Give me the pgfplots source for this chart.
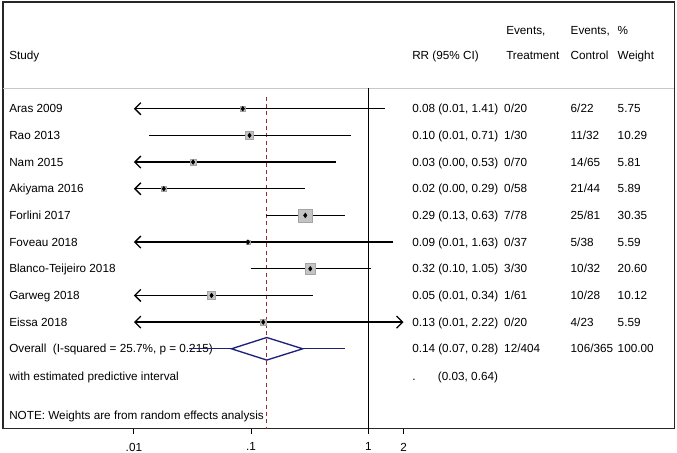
\documentclass[border=0pt]{standalone}
\usepackage{pgfplots}
\pgfplotsset{compat=1.18}
\usepackage{fontspec}
\setmainfont{Liberation Sans}
\usetikzlibrary{arrows.meta}
\definecolor{dmnd}{RGB}{30,32,120}
\definecolor{refred}{RGB}{150,40,50}
\definecolor{boxgray}{RGB}{195,195,195}
\definecolor{boxedge}{RGB}{165,165,165}
\newcommand{\fs}{\fontsize{8.8}{10.5}\selectfont}
\newcommand{\txt}[3]{\node[anchor=base west,inner sep=0pt,font=\fs] at ({rel axis cs:#1,0}|-{axis cs:1,#2}) {#3};}
\tikzset{>={Straight Barb[length=4.5pt,width=9pt]}}
\begin{document}
\begin{tikzpicture}
\useasboundingbox (-2.25pt,-17.625pt) rectangle (505.5pt,321.4pt);
\begin{axis}[
  at={(0,0)}, anchor=south west,
  scale only axis, width=503.6pt, height=319.9pt,
  xmode=log, xmin=7.64e-4, xmax=410,
  ymin=-3, ymax=12.99, y dir=reverse,
  xtick={0.01,0.1,1,2}, xticklabels={.01,.1,1,2},
  xminorticks=false, ytick=\empty,
  xtick pos=left, tick align=outside, major tick length=3.75pt,
  tick style={black, line width=0.75pt},
  axis line style={black!85, line width=0.8pt},
  xticklabel style={font=\fs, yshift=-3.5pt},
  clip=false,
]
% header
\txt{0.7491}{-1.79}{Events,}
\txt{0.8451}{-1.79}{Events,}
\txt{0.9151}{-1.79}{\%}
\txt{0.00894}{-0.853}{Study}
\txt{0.6091}{-0.853}{RR (95\% CI)}
\txt{0.7491}{-0.853}{Treatment}
\txt{0.8451}{-0.853}{Control}
\txt{0.9151}{-0.853}{Weight}
\draw[black!22, line width=0.6pt] ({rel axis cs:0,0}|-{axis cs:1,0.235}) -- ({rel axis cs:1,0}|-{axis cs:1,0.235});
% rows
\txt{0.00894}{1.157}{Aras 2009}
\txt{0.6091}{1.157}{0.08 (0.01, 1.41)}
\txt{0.7461}{1.157}{0/20}
\txt{0.8451}{1.157}{6/22}
\txt{0.9151}{1.157}{5.75}
\txt{0.00894}{2.157}{Rao 2013}
\txt{0.6091}{2.157}{0.10 (0.01, 0.71)}
\txt{0.7461}{2.157}{1/30}
\txt{0.8451}{2.157}{11/32}
\txt{0.9151}{2.157}{10.29}
\txt{0.00894}{3.157}{Nam 2015}
\txt{0.6091}{3.157}{0.03 (0.00, 0.53)}
\txt{0.7461}{3.157}{0/70}
\txt{0.8451}{3.157}{14/65}
\txt{0.9151}{3.157}{5.81}
\txt{0.00894}{4.157}{Akiyama 2016}
\txt{0.6091}{4.157}{0.02 (0.00, 0.29)}
\txt{0.7461}{4.157}{0/58}
\txt{0.8451}{4.157}{21/44}
\txt{0.9151}{4.157}{5.89}
\txt{0.00894}{5.157}{Forlini 2017}
\txt{0.6091}{5.157}{0.29 (0.13, 0.63)}
\txt{0.7461}{5.157}{7/78}
\txt{0.8451}{5.157}{25/81}
\txt{0.9151}{5.157}{30.35}
\txt{0.00894}{6.157}{Foveau 2018}
\txt{0.6091}{6.157}{0.09 (0.01, 1.63)}
\txt{0.7461}{6.157}{0/37}
\txt{0.8451}{6.157}{5/38}
\txt{0.9151}{6.157}{5.59}
\txt{0.00894}{7.157}{Blanco-Teijeiro 2018}
\txt{0.6091}{7.157}{0.32 (0.10, 1.05)}
\txt{0.7461}{7.157}{3/30}
\txt{0.8451}{7.157}{10/32}
\txt{0.9151}{7.157}{20.60}
\txt{0.00894}{8.157}{Garweg 2018}
\txt{0.6091}{8.157}{0.05 (0.01, 0.34)}
\txt{0.7461}{8.157}{1/61}
\txt{0.8451}{8.157}{10/28}
\txt{0.9151}{8.157}{10.12}
\txt{0.00894}{9.157}{Eissa 2018}
\txt{0.6091}{9.157}{0.13 (0.01, 2.22)}
\txt{0.7461}{9.157}{0/20}
\txt{0.8451}{9.157}{4/23}
\txt{0.9151}{9.157}{5.59}
\txt{0.00894}{10.157}{Overall\ \ (I-squared = 25.7\%, p = 0.215)}
\txt{0.6091}{10.157}{0.14 (0.07, 0.28)}
\txt{0.7461}{10.157}{12/404}
\txt{0.8451}{10.157}{106/365}
\txt{0.9151}{10.157}{100.00}
\txt{0.00894}{11.177}{with estimated predictive interval}
\txt{0.6091}{11.177}{.}
\txt{0.6474}{11.177}{(0.03, 0.64)}
\txt{0.00894}{12.637}{NOTE: Weights are from random effects analysis}
% reference lines
\addplot[black, line width=0.8pt] coordinates {(1,0.235) (1,12.99)};
\addplot[refred, line width=0.75pt, dash pattern=on 3pt off 2.5pt] coordinates {(0.136,0.55) (0.136,12.99)};
% weight boxes
\pgfplotsset{wbox/.style={only marks, mark=square*, color=boxgray, mark options={draw=boxedge, line width=0.4pt}}}
\addplot[wbox, mark size=2.16pt] coordinates {(0.085,1)};
\addplot[wbox, mark size=2.89pt] coordinates {(0.097,2)};
\addplot[wbox, mark size=2.17pt] coordinates {(0.032,3)};
\addplot[wbox, mark size=2.18pt] coordinates {(0.018,4)};
\addplot[wbox, mark size=4.96pt] coordinates {(0.29,5)};
\addplot[wbox, mark size=1.5pt] coordinates {(0.094,6)};
\addplot[wbox, mark size=4.08pt] coordinates {(0.32,7)};
\addplot[wbox, mark size=2.86pt] coordinates {(0.046,8)};
\addplot[wbox, mark size=2.13pt] coordinates {(0.127,9)};
% confidence intervals
\pgfplotsset{ci/.style={black, line width=1pt, no marks}}
\addplot[ci, <-] coordinates {(0.01,1) (1.40,1)};
\addplot[ci] coordinates {(0.0135,2) (0.71,2)};
\addplot[ci, <-] coordinates {(0.01,3) (0.53,3)};
\addplot[ci, <-] coordinates {(0.01,4) (0.29,4)};
\addplot[ci] coordinates {(0.134,5) (0.63,5)};
\addplot[ci, <-] coordinates {(0.01,6) (1.63,6)};
\addplot[ci] coordinates {(0.099,7) (1.05,7)};
\addplot[ci, <-] coordinates {(0.01,8) (0.34,8)};
\addplot[ci, <->] coordinates {(0.01,9) (2,9)};
% point estimates
\addplot[only marks, mark=diamond*, mark size=1.7pt, black] coordinates {(0.085,1) (0.097,2) (0.032,3) (0.018,4) (0.29,5) (0.094,6) (0.32,7) (0.046,8) (0.127,9)};
% overall
\addplot[dmnd, line width=1pt, no marks] coordinates {(0.0294,10) (0.068,10)};
\addplot[dmnd, line width=1pt, no marks] coordinates {(0.276,10) (0.633,10)};
\addplot[dmnd, line width=1pt, no marks] coordinates {(0.068,10) (0.136,9.577) (0.276,10) (0.136,10.423)} -- cycle;
\end{axis}
\end{tikzpicture}
\end{document}
